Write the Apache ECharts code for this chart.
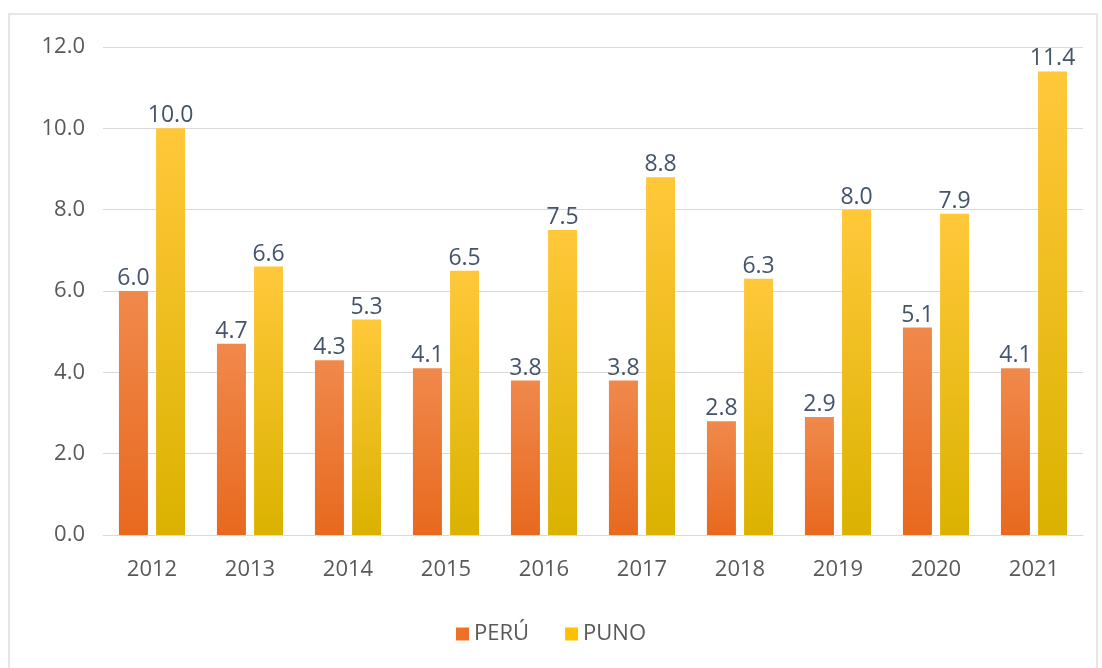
<!DOCTYPE html>
<html>
<head>
<meta charset="utf-8">
<script src="https://cdn.jsdelivr.net/npm/echarts@6/dist/echarts.min.js"></script>
<style>
  html, body { margin: 0; padding: 0; background: #fff; }
  #frame { position: absolute; left: 8px; top: 13px; width: 1090px; height: 660px; border: 2px solid #e6e6e6; box-sizing: border-box; }
  #chart { position: absolute; left: 0; top: 0; width: 1102px; height: 668px; }
</style>
</head>
<body>
<div id="frame"></div>
<div id="chart"></div>
<script>
// años
const years = ['2012', '2013', '2014', '2015', '2016', '2017', '2018', '2019', '2020', '2021'];
const peru = [6.0, 4.7, 4.3, 4.1, 3.8, 3.8, 2.8, 2.9, 5.1, 4.1];
const puno = [10.0, 6.6, 5.3, 6.5, 7.5, 8.8, 6.3, 8.0, 7.9, 11.4];

const font = "'Open Sans', 'Noto Sans', sans-serif";

function grad(top, bottom) {
  return new echarts.graphic.LinearGradient(0, 0, 0, 1, [
    { offset: 0, color: top },
    { offset: 1, color: bottom }
  ]);
}

const label = {
  show: true,
  position: 'top',
  distance: 1,
  color: '#44546A',
  fontSize: 23,
  fontFamily: font,
  formatter: p => p.value.toFixed(1)
};

const chart = echarts.init(document.getElementById('chart'), null, { renderer: 'canvas' });
chart.setOption({
  animation: false,
  grid: { left: 103, right: 19, top: 47, bottom: 133 },
  legend: {
    bottom: 18,
    left: 'center',
    itemWidth: 13,
    itemHeight: 13,
    itemGap: 36,
    icon: 'rect',
    textStyle: { color: '#595959', fontSize: 22, fontFamily: font },
    data: [
      { name: 'PERÚ', itemStyle: { color: '#F07028' } },
      { name: 'PUNO', itemStyle: { color: '#FFC000' } }
    ]
  },
  xAxis: {
    type: 'category',
    data: years,
    axisTick: { show: false },
    axisLine: { lineStyle: { color: '#d9d9d9', width: 1 } },
    axisLabel: { color: '#595959', fontSize: 22, fontFamily: font, margin: 24 }
  },
  yAxis: {
    type: 'value',
    min: 0,
    max: 12,
    interval: 2,
    axisLine: { show: false },
    axisTick: { show: false },
    splitLine: { lineStyle: { color: '#d9d9d9', width: 1 } },
    axisLabel: {
      color: '#595959', fontSize: 22, fontFamily: font, margin: 18,
      formatter: v => v.toFixed(1)
    }
  },
  series: [
    {
      name: 'PERÚ',
      type: 'bar',
      data: peru,
      barWidth: 29,
      barGap: '28%',
      itemStyle: { color: grad('#F0894C', '#E8691E') },
      label: label
    },
    {
      name: 'PUNO',
      type: 'bar',
      data: puno,
      barWidth: 29,
      itemStyle: { color: grad('#FFC83A', '#DBB200') },
      label: label
    }
  ]
});
</script>
</body>
</html>
